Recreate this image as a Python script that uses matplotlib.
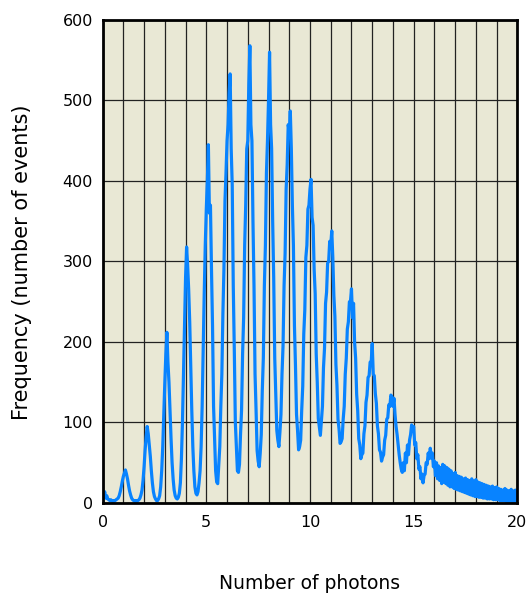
import numpy as np
import matplotlib
matplotlib.use("Agg")
import matplotlib.pyplot as plt
from matplotlib.ticker import MultipleLocator

# Photon number histogram, bin width 0.05 photon
bin_width = 0.05
counts_0_5 = [
    12, 8, 14, 6, 9, 5, 4, 3, 4, 2, 3, 2, 3, 4, 5, 6, 9, 14, 20, 27,
    33, 37, 41, 36, 30, 22, 15, 10, 6, 4, 3, 2, 3, 2, 3, 4, 6, 10, 16, 28,
    45, 66, 82, 95, 86, 72, 58, 40, 25, 14, 8, 5, 3, 3, 5, 9, 20, 40, 70, 110,
    150, 185, 212, 175, 150, 115, 80, 50, 30, 16, 9, 6, 5, 7, 12, 25, 55, 100, 160, 220,
    280, 318, 295, 265, 225, 170, 115, 70, 40, 20, 12, 10, 14, 25, 40, 70, 120, 190, 260, 320,
]
counts_5_10 = [
    365, 400, 445, 360, 370, 290, 220, 120, 80, 40, 26, 24, 48, 70, 120, 160, 235, 290, 375, 410,
    450, 470, 510, 533, 440, 395, 270, 190, 100, 70, 40, 38, 48, 85, 115, 185, 230, 320, 370, 440,
    450, 520, 568, 470, 450, 350, 270, 160, 115, 65, 52, 45, 62, 85, 140, 180, 270, 320, 410, 450,
    500, 560, 470, 440, 350, 280, 180, 135, 90, 78, 70, 88, 110, 160, 195, 270, 310, 390, 420, 470,
    460, 487, 440, 370, 320, 220, 170, 110, 90, 66, 70, 78, 115, 145, 210, 240, 305, 320, 365, 370,
]
counts_10_15 = [
    390, 402, 355, 345, 290, 260, 185, 150, 105, 94, 84, 102, 120, 168, 192, 248, 262, 298, 300, 325,
    320, 338, 305, 258, 232, 172, 146, 104, 92, 74, 76, 80, 104, 120, 160, 180, 216, 225, 250, 250,
    266, 230, 248, 200, 180, 135, 115, 80, 72, 55, 60, 62, 86, 96, 125, 134, 156, 158, 175, 174,
    198, 160, 158, 136, 124, 96, 86, 66, 63, 52, 57, 60, 78, 84, 104, 106, 122, 120, 134, 132,
    120, 130, 110, 95, 85, 72, 60, 50, 42, 38, 50, 40, 62, 50, 72, 60, 78, 85, 97, 90,
]
counts_15_20 = [
    95, 72, 75, 55, 60, 42, 45, 30, 36, 25, 34, 36, 50, 48, 62, 55, 68, 56, 62, 45,
    52, 34, 50, 30, 46, 28, 44, 24, 48, 26, 46, 24, 44, 22, 42, 20, 40, 20, 36, 18,
    38, 17, 34, 16, 33, 15, 32, 14, 30, 13, 31, 12, 29, 11, 28, 10, 30, 9, 27, 8,
    29, 8, 26, 7, 25, 7, 24, 6, 23, 6, 22, 5, 21, 5, 20, 5, 21, 4, 19, 4,
    20, 4, 18, 3, 17, 3, 16, 3, 18, 2, 16, 2, 15, 2, 17, 2, 15, 1, 16, 2,
    12,
]
counts = np.array(counts_0_5 + counts_5_10 + counts_10_15 + counts_15_20)
photons = np.arange(len(counts)) * bin_width

# Colours
bg_color = "#E9E8D5"
line_color = "#0883FF"

fig = plt.figure(figsize=(5.30, 5.97), dpi=100)
ax = fig.add_axes([0.1936, 0.1575, 0.7826, 0.809])
ax.set_facecolor(bg_color)

# Grid: every photon vertically, every 100 events horizontally
ax.xaxis.set_major_locator(MultipleLocator(5))
ax.xaxis.set_minor_locator(MultipleLocator(1))
ax.yaxis.set_major_locator(MultipleLocator(100))
ax.grid(which="both", color="#222222", linewidth=0.9)
ax.set_axisbelow(True)

ax.plot(photons, counts, color=line_color, linewidth=2.3, zorder=3)

ax.set_xlim(0, 20)
ax.set_ylim(0, 600)

ax.tick_params(which="both", length=0, labelsize=11.5)
ax.tick_params(axis="y", pad=7)
ax.tick_params(axis="x", pad=8.5)
for s in ax.spines.values():
    s.set_linewidth(2.0)
    s.set_color("black")
    s.set_zorder(4)

# Axis titles
fig.text(0.585, 0.022, "Number of photons", ha="center", va="center", fontsize=13.5)
fig.text(0.042, 0.561, "Frequency (number of events)", ha="center", va="center",
         rotation=90, fontsize=15)

fig.savefig("out.png", dpi=100)
